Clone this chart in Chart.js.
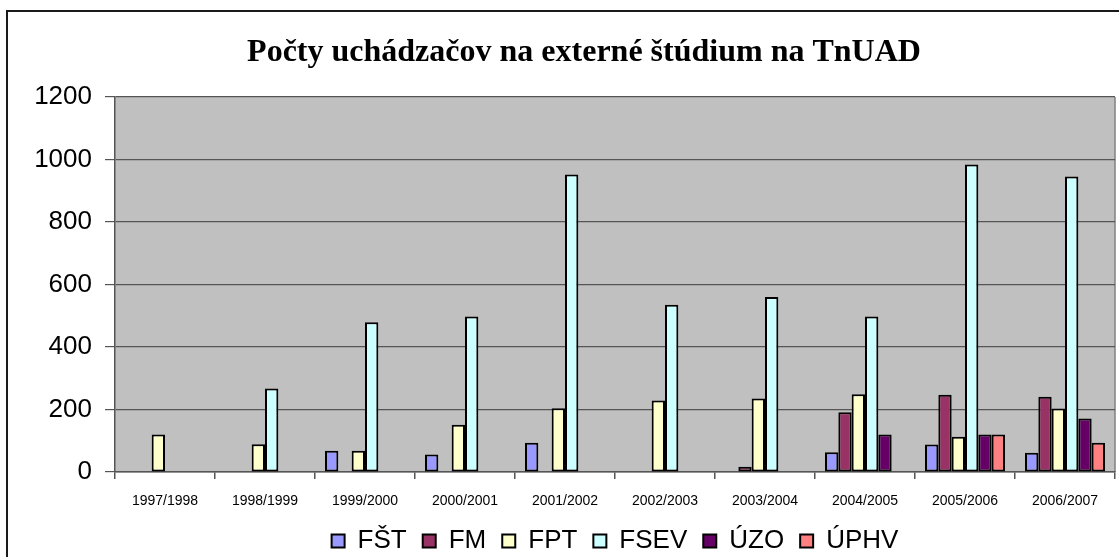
<!DOCTYPE html>
<html>
<head>
<meta charset="utf-8">
<script src="https://cdn.jsdelivr.net/npm/chart.js@4/dist/chart.umd.min.js"></script>
<style>
  html, body { margin: 0; padding: 0; background: #ffffff; }
  #wrap { position: relative; width: 1119px; height: 557px; }
</style>
</head>
<body>
<div id="wrap"><canvas id="c" width="1119" height="557"></canvas></div>
<script>
const categories = ['1997/1998','1998/1999','1999/2000','2000/2001','2001/2002','2002/2003','2003/2004','2004/2005','2005/2006','2006/2007'];
const seriesNames = ['FŠT','FM','FPT','FSEV','ÚZO','ÚPHV'];
const FST  = [null, null, 68, 56, 94, null, null, 63, 88, 62];
const FM   = [null, null, null, null, null, null, 17, 191, 247, 241];
const FPT  = [120, 89, 68, 151, 204, 229, 235, 249, 113, 203];
const FSEV = [null, 267, 479, 498, 952, 535, 560, 498, 984, 946];
const UZO  = [null, null, null, null, null, null, null, 120, 120, 171];
const UPHV = [null, null, null, null, null, null, null, null, 120, 94];
const yTicks = [0, 200, 400, 600, 800, 1000, 1200];
const titleText = 'Počty uchádzačov na externé štúdium na TnUAD';

const colors = ['#9999FF', '#993366', '#FFFFCC', '#CCFFFF', '#660066', '#FF8080'];
const values = [FST, FM, FPT, FSEV, UZO, UPHV];

const bgPlugin = {
  id: 'bg',
  beforeDraw(chart) {
    const {ctx, chartArea: a} = chart;
    ctx.save();
    // outer frame
    ctx.strokeStyle = '#1a1a1a';
    ctx.lineWidth = 2;
    ctx.beginPath();
    ctx.moveTo(7, 560); ctx.lineTo(7, 11); ctx.lineTo(1125, 11);
    ctx.stroke();
    // plot background
    ctx.fillStyle = '#C0C0C0';
    ctx.fillRect(a.left, a.top, a.right - a.left, a.bottom - a.top);
    ctx.strokeStyle = '#808080';
    ctx.lineWidth = 1.5;
    ctx.beginPath();
    ctx.moveTo(a.right, a.top); ctx.lineTo(a.right, a.bottom);
    ctx.stroke();
    ctx.restore();
  },
  afterDraw(chart) {
    const ctx = chart.ctx;
    ctx.save();
    ctx.fillStyle = '#000000';
    ctx.font = 'bold 32px "Liberation Serif", "Times New Roman", serif';
    ctx.textAlign = 'center';
    ctx.textBaseline = 'middle';
    ctx.fillText(titleText, 584, 53);
    ctx.restore();
  }
};

new Chart(document.getElementById('c'), {
  type: 'bar',
  data: {
    labels: categories,
    datasets: seriesNames.map((n, i) => ({
      label: n,
      data: values[i],
      backgroundColor: colors[i],
      borderColor: '#000000',
      borderWidth: 2,
      borderSkipped: false,
      categoryPercentage: 0.8,
      barPercentage: 1.0
    }))
  },
  options: {
    responsive: false,
    animation: false,
    layout: { padding: { left: 0, right: 4, top: 0, bottom: 0 } },
    plugins: {
      title: {
        display: true,
        text: titleText,
        color: 'rgba(0,0,0,0)',
        font: { family: '"Liberation Serif", "Times New Roman", serif', size: 28, weight: 'bold' },
        padding: { top: 37, bottom: 26.4 }
      },
      legend: {
        position: 'bottom',
        fullSize: false,
        maxHeight: 45,
        labels: {
          color: '#000000',
          font: { family: '"Liberation Sans", Arial, sans-serif', size: 26 },
          boxWidth: 13,
          boxHeight: 13,
          padding: 16
        }
      },
      tooltip: { enabled: false }
    },
    scales: {
      x: {
        grid: { display: true, drawOnChartArea: false, drawTicks: true, tickLength: 7, color: '#555555', lineWidth: 1.5, offset: true },
        border: { display: true, color: '#555555', width: 1.5 },
        ticks: { color: '#000000', font: { family: '"Liberation Sans", Arial, sans-serif', size: 14 }, padding: 13.5, maxRotation: 0, autoSkip: false },
        afterFit(scale) { scale.height = 40; }
      },
      y: {
        min: 0,
        max: 1200,
        afterBuildTicks(scale) { scale.ticks = yTicks.map(v => ({ value: v })); },
        grid: { color: '#555555', lineWidth: 1.2, tickLength: 10, drawTicks: true },
        border: { display: true, color: '#555555', width: 1.5 },
        ticks: { color: '#000000', font: { family: '"Liberation Sans", Arial, sans-serif', size: 26 }, padding: 13, callback: (v) => String(v) },
        afterFit(scale) { scale.width = 115; }
      }
    }
  },
  plugins: [bgPlugin]
});
</script>
</body>
</html>
